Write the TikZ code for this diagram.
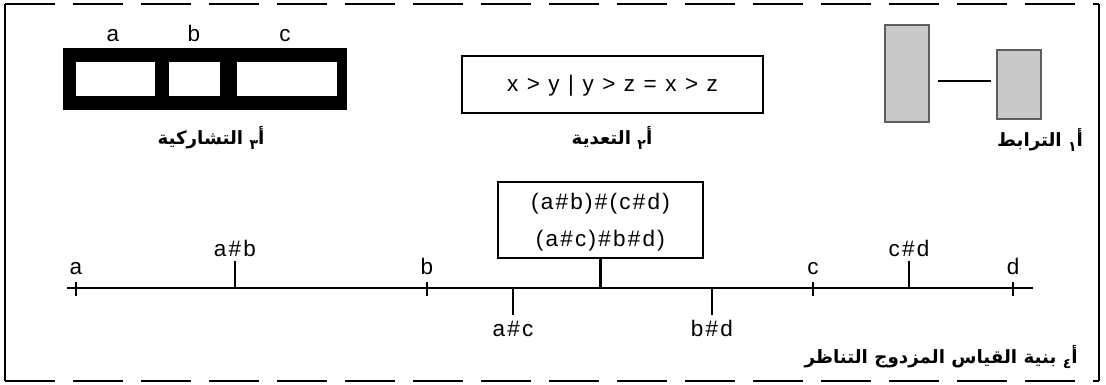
\documentclass[tikz,border=0pt]{standalone}
\usepackage{fontspec}
\setmainfont{Liberation Sans}[LetterSpace=10]
\newfontfamily\arabicfont[Script=Arabic, BoldFont={DejaVu Sans Bold}]{DejaVu Sans}
\TeXXeTstate=1
\usetikzlibrary{positioning}
\definecolor{Bar_Gray}{HTML}{C9C9C9}
\definecolor{Bar_Edge}{HTML}{5E5E5E}
\newcommand{\arsub}[1]{\raisebox{-0.5ex}{\fontsize{10}{10}\selectfont #1}}

\begin{document}
\begin{tikzpicture}[
  x=0.025cm, y=-0.025cm,
  every node/.style={font=\fontsize{16}{18}\selectfont, inner sep=0pt},
  lbl/.style={anchor=base},
  arcap/.style={anchor=base, font=\arabicfont\bfseries\fontsize{13}{15}\selectfont},
  band/.style={fill=black, minimum height=1.55cm},
  cell/.style={fill=white, minimum height=0.85cm},
  gbar/.style={draw=Bar_Edge, fill=Bar_Gray, line width=1.2pt, minimum width=1.1cm},
  frm/.style={draw, line width=1.8pt},
  link/.style={line width=1.6pt},
  tick/.style={line width=1.6pt},
  sideline/.style={line width=1.4pt},
  hdash/.style={line width=1.4pt, dash pattern=on 1.25cm off 0.45cm}
]
  \useasboundingbox (0,0) rectangle (1106,385);

  % Border: dashed top and bottom, solid sides
  \draw[hdash] (5,4) -- (1099,4);
  \draw[hdash] (5,381) -- (1099,381);
  \draw[sideline] (5,4) -- (5,381);
  \draw[sideline] (1099,4) -- (1099,381);

  % a3: hatched band with three cells
  \node[band, minimum width=7.1cm] (band) at (205,79) {};
  \node[cell, minimum width=1.975cm] (ca) at (115.5,79) {};
  \node[cell, minimum width=1.275cm] (cb) at (194.5,79) {};
  \node[cell, minimum width=2.5cm] (cc) at (287,79) {};
  \node[lbl] (la) at (113,42) {a};
  \node[lbl] (lb) at (194,42) {b};
  \node[lbl] (lc) at (285,42) {c};
  \node[arcap] (cap3) at (211,145) {\beginR أ\arsub{٣} التشاركية\endR};

  % a2: transitivity box
  \node[frm, minimum width=7.525cm, minimum height=1.425cm] (trans) at (612.5,84.5) {};
  \node[lbl] (ttxt) at (612.5,92) {x > y | y > z = x > z};
  \node[arcap] (cap2) at (612,145) {\beginR أ\arsub{٢} التعدية\endR};

  % a1: two gray bars and a link
  \node[gbar, minimum height=2.425cm] (r1) at (907,73.5) {};
  \node[gbar, minimum height=1.725cm] (r2) at (1019,84.5) {};
  \draw[link, shorten <=6pt, shorten >=4pt] ([yshift=2.5pt]r1.east |- r2.west) -- ([yshift=2.5pt]r2.west);
  \node[arcap] (cap1) at (1040,147) {\beginR أ\arsub{١} الترابط\endR};

  % a4: axis with ticks
  \coordinate (ax0) at (67,288);
  \coordinate (ax1) at (1033,288);
  \draw[tick] (ax0) -- (ax1);
  \foreach \x/\t/\n in {76/a/pa, 427/b/pb, 813/c/pc, 1013/d/pd} {
    \draw[tick] (\x,282) -- (\x,296);
    \node[lbl] (\n) at (\x,275) {\t};
  }
  \foreach \x/\t/\n in {235/a\#b/pab, 909/c\#d/pcd} {
    \draw[tick] (\x,261) -- (\x,288);
    \node[lbl] (\n) at (\x,257) {\t};
  }
  \foreach \x/\t/\n in {513/a\#c/pac, 712/b\#d/pbd} {
    \draw[tick] (\x,288) -- (\x,315);
    \node[lbl] (\n) at (\x,337) {\t};
  }

  % Compound box on a stem
  \node[frm, minimum width=5.125cm, minimum height=1.9cm] (comp) at (600.5,220) {};
  \node[lbl] (cl1) at (600.5,210) {(a\#b)\#(c\#d)};
  \node[lbl] (cl2) at (600.5,247) {(a\#c)\#b\#d)};
  \draw[tick] (comp.south) -- (comp.south |- ax0);
  \node[arcap, anchor=base east] (cap4) at (1078,364) {\beginR أ\arsub{٤} بنية القياس المزدوج التناظر\endR};
\end{tikzpicture}
\end{document}
